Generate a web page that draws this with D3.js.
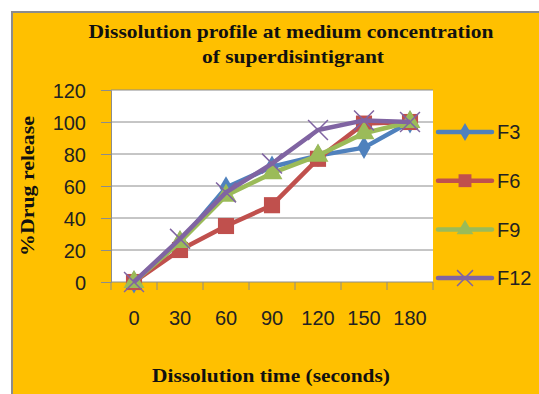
<!DOCTYPE html>
<html lang="en">
<head>
	<meta charset="UTF-8">
	<title>Dissolution profile</title>
	<style>
		body { margin: 0; background: #fff; }
		svg { display: block; }
		.tick text { font-family: "Liberation Sans", Arial, sans-serif; font-size: 20px; fill: #222; }
		.ttl { font-family: "Liberation Serif", "Times New Roman", serif; font-weight: bold; fill: #111; }
	</style>
	<script src="https://d3js.org/d3.v7.min.js"></script>
</head>
<body>
<script>
	// data
	const times = ["0", "30", "60", "90", "120", "150", "180"];
	const f3 = [0, 25, 59, 72, 79, 84, 100];
	const f6 = [0, 20, 35, 48, 77, 99, 100];
	const f9 = [0, 25, 54, 68, 79, 93, 100];
	const f12 = [0, 27, 56, 74, 95, 101, 100];
	const yTicks = [0, 20, 40, 60, 80, 100, 120];

	const series = [
		{ name: "F3", values: f3, color: "#4F81BD", shape: "diamond" },
		{ name: "F6", values: f6, color: "#C0504D", shape: "square" },
		{ name: "F9", values: f9, color: "#9BBB59", shape: "triangle" },
		{ name: "F12", values: f12, color: "#8064A2", shape: "cross" }
	];

	const W = 539, H = 394;
	const plot = { left: 111, right: 433, top: 90, bottom: 282 };

	const svg = d3.select("body").append("svg")
		.attr("width", W)
		.attr("height", H);

	// chart area
	svg.append("rect")
		.attr("x", 12).attr("y", 12)
		.attr("width", W).attr("height", H)
		.attr("fill", "#FFC000")
		.attr("stroke", "#8C8C8C")
		.attr("stroke-width", 2);

	svg.append("rect")
		.attr("x", plot.left).attr("y", plot.top)
		.attr("width", plot.right - plot.left)
		.attr("height", plot.bottom - plot.top)
		.attr("fill", "#fff");

	const x = d3.scaleBand().domain(times).range([plot.left, plot.right]);
	const y = d3.scaleLinear().domain([0, 120]).range([plot.bottom, plot.top]);

	// gridlines
	svg.append("g")
		.selectAll("line")
		.data(yTicks.slice(1))
		.join("line")
		.attr("x1", plot.left).attr("x2", plot.right)
		.attr("y1", d => y(d)).attr("y2", d => y(d))
		.attr("stroke", "#8C8C8C")
		.attr("stroke-width", 1);

	// y axis
	const yAxis = svg.append("g")
		.attr("transform", `translate(${plot.left},0)`)
		.call(d3.axisLeft(y).tickValues(yTicks).tickSize(10).tickPadding(15));
	yAxis.select(".domain").attr("stroke", "#8C8C8C");
	yAxis.selectAll(".tick line").attr("stroke", "#8C8C8C");
	yAxis.selectAll(".tick text").attr("dy", "0.36em");

	// x axis: ticks between categories
	const xAxis = svg.append("g")
		.attr("transform", `translate(0,${plot.bottom})`)
		.call(d3.axisBottom(x).tickSize(0).tickPadding(29));
	xAxis.select(".domain").attr("stroke", "#8C8C8C").attr("d", `M${plot.left},0H${plot.right}`);
	xAxis.selectAll(".tick text").attr("dy", "0.71em");
	xAxis.append("g")
		.selectAll("line")
		.data(times.concat(["end"]))
		.join("line")
		.attr("x1", (d, i) => plot.left + i * x.bandwidth())
		.attr("x2", (d, i) => plot.left + i * x.bandwidth())
		.attr("y1", 0).attr("y2", 8)
		.attr("stroke", "#8C8C8C");

	const symbols = {
		diamond: d3.symbol().type(d3.symbolDiamond).size(150),
		square: d3.symbol().type(d3.symbolSquare).size(260),
		triangle: d3.symbol().type(d3.symbolTriangle).size(190),
		cross: d3.symbol().type(d3.symbolX).size(260)
	};

	function drawMarker(g, s, scale) {
		const p = g.append("path").attr("d", symbols[s.shape]())
			.attr("transform", `scale(${scale})`);
		if (s.shape === "cross") {
			p.attr("fill", "none").attr("stroke", s.color).attr("stroke-width", 1.5 / scale);
		} else {
			p.attr("fill", s.color);
		}
		return p;
	}

	const line = d3.line()
		.x((d, i) => x(times[i]) + x.bandwidth() / 2)
		.y(d => y(d));

	series.forEach(s => {
		svg.append("path")
			.datum(s.values)
			.attr("fill", "none")
			.attr("stroke", s.color)
			.attr("stroke-width", 4.5)
			.attr("stroke-linejoin", "round")
			.attr("d", line);
		s.values.forEach((v, i) => {
			const g = svg.append("g")
				.attr("transform", `translate(${x(times[i]) + x.bandwidth() / 2},${y(v)})`);
			drawMarker(g, s, 1);
		});
	});

	// legend
	const legend = svg.append("g");
	series.forEach((s, i) => {
		const ly = 132 + i * 48.7;
		const g = legend.append("g").attr("transform", `translate(0,${ly})`);
		g.append("line")
			.attr("x1", 438).attr("x2", 492)
			.attr("stroke", s.color).attr("stroke-width", 4.5)
			.attr("stroke-linecap", "round");
		const m = g.append("g").attr("transform", "translate(465,0)");
		drawMarker(m, s, 0.8);
		g.append("text")
			.attr("x", 497).attr("y", 0).attr("dy", "0.36em")
			.attr("font-family", "'Liberation Sans', Arial, sans-serif")
			.attr("font-size", 20)
			.attr("fill", "#222")
			.text(s.name);
	});

	// titles
	const title = svg.append("text")
		.attr("class", "ttl")
		.attr("x", 291).attr("text-anchor", "middle")
		.attr("font-size", 19.5);
	title.append("tspan").attr("x", 291).attr("y", 38)
		.attr("textLength", 405).attr("lengthAdjust", "spacingAndGlyphs")
		.text("Dissolution profile at medium concentration");
	title.append("tspan").attr("x", 293).attr("y", 63)
		.attr("textLength", 182).attr("lengthAdjust", "spacingAndGlyphs")
		.text("of superdisintigrant");

	svg.append("text")
		.attr("class", "ttl")
		.attr("x", 271).attr("y", 382)
		.attr("text-anchor", "middle")
		.attr("font-size", 19)
		.attr("textLength", 238).attr("lengthAdjust", "spacingAndGlyphs")
		.text("Dissolution time (seconds)");

	svg.append("text")
		.attr("class", "ttl")
		.attr("transform", "translate(34,186) rotate(-90)")
		.attr("text-anchor", "middle")
		.attr("font-size", 18)
		.attr("textLength", 140).attr("lengthAdjust", "spacingAndGlyphs")
		.text("%Drug release");
</script>
</body>
</html>
